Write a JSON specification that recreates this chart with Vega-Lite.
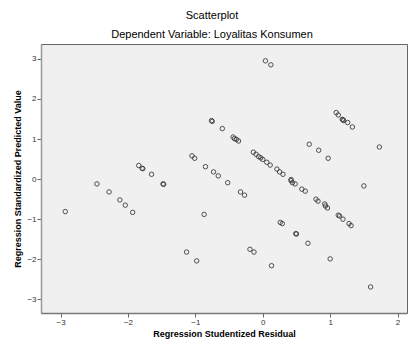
{
  "$schema": "https://vega.github.io/schema/vega-lite/v6.json",
  "width": 366,
  "height": 269,
  "autosize": {"type": "none"},
  "padding": {"left": 41, "top": 44, "right": 2, "bottom": 34},
  "background": "white",
  "title": {
    "text": "Scatterplot",
    "subtitle": "Dependent Variable: Loyalitas Konsumen",
    "anchor": "middle",
    "frame": "group",
    "dx": -12,
    "offset": 4,
    "font": "Liberation Sans",
    "fontSize": 11,
    "fontWeight": "normal",
    "color": "#000",
    "subtitleFont": "Liberation Sans",
    "subtitleFontSize": 11,
    "subtitleColor": "#000",
    "subtitlePadding": 8
  },
  "config": {
    "view": {"fill": "#F0F0F0", "stroke": "#666", "strokeWidth": 1},
    "axis": {"grid": false, "labelFont": "Liberation Sans", "titleFont": "Liberation Sans"}
  },
  "data": {
    "values": [
      {"residual": -2.93, "predicted": -0.81},
      {"residual": -2.46, "predicted": -0.12},
      {"residual": -2.28, "predicted": -0.32},
      {"residual": -2.12, "predicted": -0.52},
      {"residual": -2.04, "predicted": -0.65},
      {"residual": -1.93, "predicted": -0.83},
      {"residual": -1.84, "predicted": 0.34},
      {"residual": -1.79, "predicted": 0.27},
      {"residual": -1.78, "predicted": 0.26},
      {"residual": -1.65, "predicted": 0.12},
      {"residual": -1.48, "predicted": -0.12},
      {"residual": -1.47, "predicted": -0.13},
      {"residual": -1.13, "predicted": -1.82},
      {"residual": -1.05, "predicted": 0.58},
      {"residual": -1.01, "predicted": 0.52},
      {"residual": -0.98, "predicted": -2.04},
      {"residual": -0.87, "predicted": -0.88},
      {"residual": -0.85, "predicted": 0.31},
      {"residual": -0.76, "predicted": 1.46},
      {"residual": -0.75, "predicted": 1.44},
      {"residual": -0.73, "predicted": 0.18},
      {"residual": -0.66, "predicted": 0.08},
      {"residual": -0.6, "predicted": 1.26},
      {"residual": -0.52, "predicted": -0.09},
      {"residual": -0.44, "predicted": 1.05},
      {"residual": -0.42, "predicted": 1.01},
      {"residual": -0.39, "predicted": 0.99},
      {"residual": -0.36, "predicted": 0.95},
      {"residual": -0.33, "predicted": -0.32},
      {"residual": -0.27, "predicted": -0.4},
      {"residual": -0.19, "predicted": -1.75},
      {"residual": -0.14, "predicted": 0.67},
      {"residual": -0.13, "predicted": -1.82},
      {"residual": -0.1, "predicted": 0.62},
      {"residual": -0.06, "predicted": 0.56},
      {"residual": -0.03, "predicted": 0.53},
      {"residual": 0.0, "predicted": 0.49},
      {"residual": 0.04, "predicted": 2.95},
      {"residual": 0.06, "predicted": 0.42},
      {"residual": 0.11, "predicted": 0.35},
      {"residual": 0.12, "predicted": 2.85},
      {"residual": 0.13, "predicted": -2.16},
      {"residual": 0.21, "predicted": 0.25},
      {"residual": 0.25, "predicted": 0.18},
      {"residual": 0.26, "predicted": -1.08},
      {"residual": 0.29, "predicted": -1.11},
      {"residual": 0.3, "predicted": 0.12},
      {"residual": 0.42, "predicted": -0.01},
      {"residual": 0.42, "predicted": -0.04},
      {"residual": 0.44, "predicted": -0.09},
      {"residual": 0.48, "predicted": -0.12},
      {"residual": 0.49, "predicted": -1.36},
      {"residual": 0.5, "predicted": -1.37},
      {"residual": 0.58, "predicted": -0.25},
      {"residual": 0.63, "predicted": -0.3},
      {"residual": 0.67, "predicted": -1.6},
      {"residual": 0.69, "predicted": 0.87},
      {"residual": 0.79, "predicted": -0.5},
      {"residual": 0.82, "predicted": -0.55},
      {"residual": 0.83, "predicted": 0.72},
      {"residual": 0.92, "predicted": -0.62},
      {"residual": 0.93, "predicted": -0.67},
      {"residual": 0.96, "predicted": -0.72},
      {"residual": 0.97, "predicted": 0.52},
      {"residual": 1.0, "predicted": -1.99},
      {"residual": 1.09, "predicted": 1.66},
      {"residual": 1.12, "predicted": 1.6},
      {"residual": 1.12, "predicted": -0.9},
      {"residual": 1.14, "predicted": -0.92},
      {"residual": 1.18, "predicted": 1.49},
      {"residual": 1.19, "predicted": 1.48},
      {"residual": 1.2, "predicted": 1.46},
      {"residual": 1.19, "predicted": -1.0},
      {"residual": 1.26, "predicted": 1.41},
      {"residual": 1.28, "predicted": -1.11},
      {"residual": 1.31, "predicted": -1.16},
      {"residual": 1.33, "predicted": 1.3},
      {"residual": 1.5, "predicted": -0.17},
      {"residual": 1.6, "predicted": -2.69},
      {"residual": 1.73, "predicted": 0.8}
    ]
  },
  "mark": {"type": "point", "shape": "circle", "filled": false, "size": 20, "stroke": "#333", "strokeWidth": 1, "opacity": 0.85},
  "encoding": {
    "x": {
      "field": "residual",
      "type": "quantitative",
      "scale": {"domain": [-3.29, 2.14], "nice": false, "zero": false},
      "axis": {
        "title": "Regression Studentized Residual",
        "values": [-3, -2, -1, 0, 1, 2],
        "format": "d",
        "labelFontSize": 8,
        "labelColor": "#333",
        "labelPadding": 1,
        "tickSize": 4,
        "tickColor": "#666",
        "domainColor": "#777",
        "domainWidth": 1.5,
        "titleFontSize": 9,
        "titleFontWeight": "bold",
        "titleColor": "#000",
        "titlePadding": 3
      }
    },
    "y": {
      "field": "predicted",
      "type": "quantitative",
      "scale": {"domain": [-3.34, 3.37], "nice": false, "zero": false},
      "axis": {
        "title": "Regression Standardized Predicted Value",
        "values": [-3, -2, -1, 0, 1, 2, 3],
        "format": "d",
        "labelFontSize": 8,
        "labelColor": "#333",
        "labelPadding": 1,
        "tickSize": 4,
        "tickColor": "#666",
        "domainColor": "#999",
        "domainWidth": 1.5,
        "titleFontSize": 9,
        "titleFontWeight": "bold",
        "titleColor": "#000",
        "titlePadding": 4
      }
    }
  }
}
